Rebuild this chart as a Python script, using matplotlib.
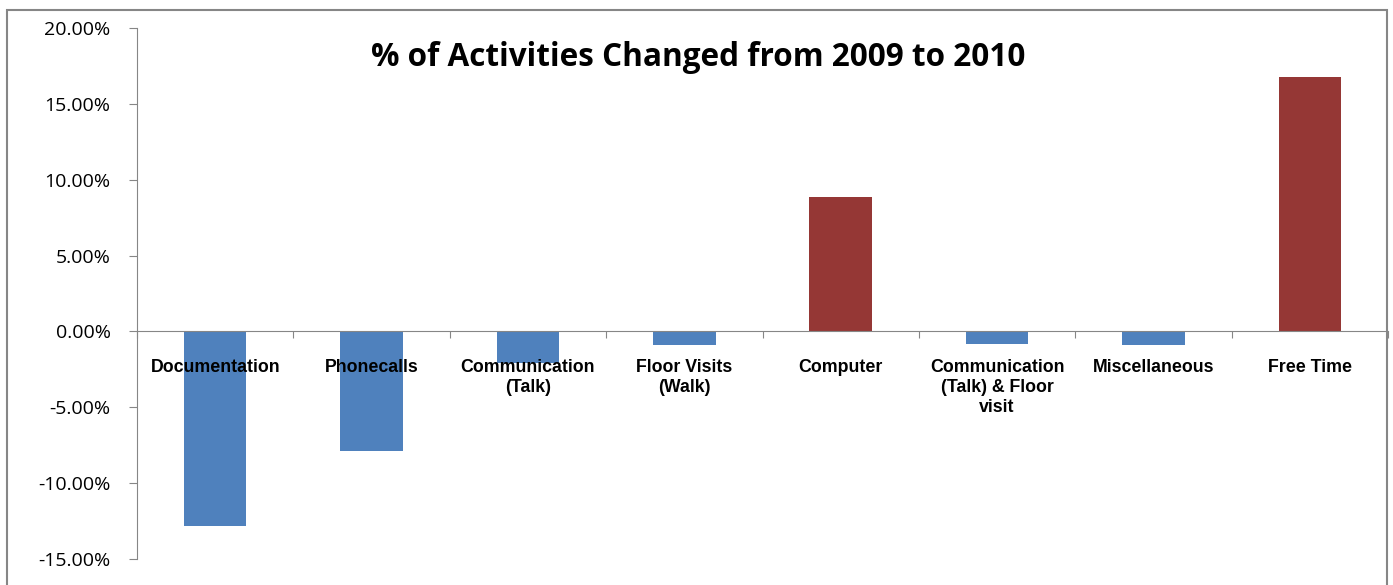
import matplotlib.pyplot as plt
import numpy as np
from matplotlib.patches import Rectangle
from matplotlib.ticker import PercentFormatter, FixedLocator

categories = ["Documentation", "Phonecalls", "Communication\n(Talk)", "Floor Visits\n(Walk)",
              "Computer", "Communication\n(Talk) & Floor\nvisit", "Miscellaneous", "Free Time"]
changes = [-12.85, -7.85, -2.1, -0.92, 8.83, -0.82, -0.92, 16.8]
bar_colors = ["#4F81BD", "#4F81BD", "#4F81BD", "#4F81BD", "#953735", "#4F81BD", "#4F81BD", "#953735"]
yticks = [-15, -10, -5, 0, 5, 10, 15, 20]

plt.rcParams["axes.unicode_minus"] = False

fig = plt.figure(figsize=(13.93, 5.85), dpi=100)
ax = fig.add_axes([137 / 1393, 1 - 559 / 585, (1388 - 137) / 1393, (559 - 28) / 585])

x = np.arange(len(categories))
ax.bar(x, changes, width=0.4, color=bar_colors, zorder=2)
ax.set_axisbelow(False)  # category labels sit on top of the bars

ax.set_xlim(-0.5, len(categories) - 0.5)
ax.set_ylim(-15, 20)
ax.set_yticks(yticks)
ax.yaxis.set_major_formatter(PercentFormatter(decimals=2))

grey = "#868686"
for s in ["top", "right"]:
    ax.spines[s].set_visible(False)
ax.spines["left"].set_color(grey)
ax.spines["bottom"].set_color(grey)
ax.spines["bottom"].set_position(("data", 0))
ax.spines["bottom"].set_zorder(3)

ax.tick_params(axis="y", direction="out", length=6, color=grey, labelsize=14, pad=13)
for lbl in ax.get_yticklabels():
    lbl.set_fontfamily("Open Sans")

# category boundaries as ticks, labels at centers
ax.xaxis.set_major_locator(FixedLocator(np.arange(len(categories) + 1) - 0.5))
ax.xaxis.set_major_formatter(plt.NullFormatter())
ax.xaxis.set_minor_locator(FixedLocator(x))
ax.set_xticklabels(categories, minor=True, fontsize=12.8, fontweight="bold",
                   fontfamily="Liberation Sans", linespacing=1.25)
ax.tick_params(axis="x", which="major", direction="out", length=5, color=grey)
ax.tick_params(axis="x", which="minor", length=0, pad=19.5)

fig.text(698 / 1393, 1 - 57 / 585, "% of Activities Changed from 2009 to 2010",
         ha="center", va="center", fontsize=22.7, fontweight="bold", fontfamily="Open Sans")

fig.patches.append(Rectangle((7 / 1393, -0.05), 1380 / 1393, 1.05 - 10 / 585,
                             transform=fig.transFigure, fill=False, edgecolor=grey, lw=1.5))

fig.savefig("out.png", dpi=100)
